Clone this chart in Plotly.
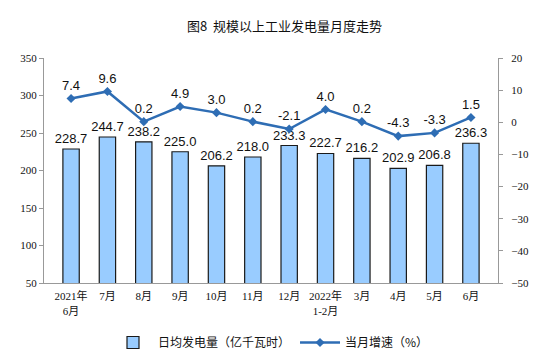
import plotly.graph_objects as go

categories = ["2021年<br>6月", "7月", "8月", "9月", "10月", "11月", "12月",
              "2022年<br>1-2月", "3月", "4月", "5月", "6月"]
daily_output = [228.7, 244.7, 238.2, 225.0, 206.2, 218.0, 233.3, 222.7, 216.2, 202.9, 206.8, 236.3]
growth = [7.4, 9.6, 0.2, 4.9, 3.0, 0.2, -2.1, 4.0, 0.2, -4.3, -3.3, 1.5]

cjk = "Noto Sans CJK SC"
serif = "Liberation Serif, DejaVu Serif, serif"
sans = "Liberation Sans, Arial, sans-serif"

fig = go.Figure()
fig.add_trace(go.Bar(
    x=categories, y=daily_output, name="日均发电量（亿千瓦时）",
    marker=dict(color="#99CCFF", line=dict(color="#1a1a1a", width=1.2)),
    width=0.45,
    text=[f"{v:.1f}" for v in daily_output], textposition="outside",
    constraintext="none",
    textfont=dict(family=sans, size=13, color="#111"),
    cliponaxis=False,
))
fig.add_trace(go.Scatter(
    x=categories, y=growth, name="当月增速（%）", yaxis="y2",
    mode="lines+markers+text",
    line=dict(color="#2E6DB4", width=2.5),
    marker=dict(symbol="diamond", size=7, color="#2E6DB4"),
    text=[f"{v:.1f}" for v in growth], textposition="top center",
    textfont=dict(family=sans, size=13, color="#111"),
    cliponaxis=False,
))

fig.update_layout(
    width=553, height=361,
    margin=dict(l=33, r=63, t=50, b=63),
    paper_bgcolor="white", plot_bgcolor="white",
    title=dict(text="图8  规模以上工业发电量月度走势", x=0.5, xanchor="center",
               y=0.95, yanchor="middle",
               font=dict(family=cjk, size=13, color="#111")),
    showlegend=True,
    legend=dict(orientation="h", x=0.5, xanchor="center", y=-0.2, yanchor="top",
                font=dict(family=cjk, size=12, color="#111"),
                itemwidth=40, traceorder="normal"),
    xaxis=dict(showline=True, linecolor="#999", linewidth=1, ticks="",
               ticklabelstandoff=3,
               tickfont=dict(family="Liberation Serif, Noto Sans CJK SC, serif", size=11, color="#111"),
               showgrid=False),
    yaxis=dict(range=[50, 350], dtick=50, showline=True, linecolor="#999", linewidth=1,
               ticks="outside", ticklen=4, tickcolor="#999", showgrid=False,
               zeroline=False,
               tickfont=dict(family=serif, size=11, color="#111")),
    yaxis2=dict(range=[-50, 20], dtick=10, overlaying="y", side="right",
                showline=True, linecolor="#999", linewidth=1,
                ticks="outside", ticklen=4, tickcolor="#999", showgrid=False,
                zeroline=False, ticklabelstandoff=6,
                tickfont=dict(family=serif, size=11, color="#111")),
)

fig.write_html("out.html")
